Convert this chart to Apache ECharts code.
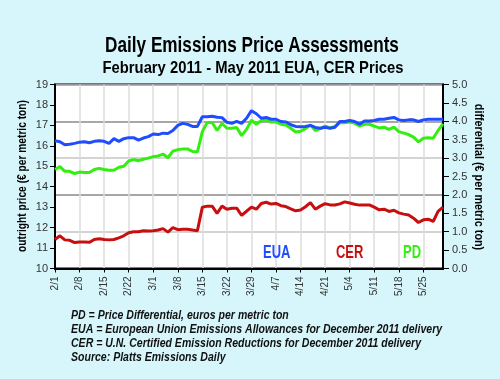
<!DOCTYPE html>
<html>
<head>
<meta charset="utf-8">
<script src="https://cdn.jsdelivr.net/npm/echarts@6/dist/echarts.min.js"></script>
<style>
html,body{margin:0;padding:0;background:#d6f6fb;}
#chart{width:500px;height:379px;}
</style>
</head>
<body>
<div id="chart"></div>
<script>
var categories = [
'2/1','2/2','2/3','2/4','2/7',
'2/8','2/9','2/10','2/11','2/14',
'2/15','2/16','2/17','2/18','2/21',
'2/22','2/23','2/24','2/25','2/28',
'3/1','3/2','3/3','3/4','3/7',
'3/8','3/9','3/10','3/11','3/14',
'3/15','3/16','3/17','3/18','3/21',
'3/22','3/23','3/24','3/25','3/28',
'3/29','3/30','3/31','4/1','4/4',
'4/7','4/8','4/11','4/12','4/13',
'4/14','4/15','4/18','4/19','4/20',
'4/21','4/26','4/27','4/28','5/3',
'5/4','5/5','5/6','5/9','5/10',
'5/11','5/12','5/13','5/16','5/17',
'5/18','5/19','5/20','5/23','5/24',
'5/25','5/26','5/27','5/30','5/31'];

var eua = [
16.25,16.2,16.05,16.08,16.12,16.18,16.2,16.15,16.22,16.25,
16.22,16.12,16.35,16.22,16.35,16.4,16.4,16.28,16.38,16.45,
16.58,16.55,16.62,16.6,16.75,17.0,17.1,17.05,16.95,16.95,
17.42,17.42,17.45,17.4,17.38,17.15,17.1,17.2,17.1,17.35,
17.72,17.57,17.35,17.39,17.3,17.3,17.19,17.17,17.03,16.95,
16.93,16.95,17.0,16.9,16.86,16.91,16.86,16.91,17.19,17.19,
17.24,17.19,17.06,17.21,17.22,17.24,17.3,17.3,17.35,17.39,
17.27,17.24,17.27,17.27,17.19,17.27,17.3,17.3,17.3,17.3];

var cer = [
11.42,11.6,11.4,11.38,11.27,11.3,11.3,11.28,11.42,11.45,
11.42,11.4,11.42,11.5,11.6,11.75,11.8,11.8,11.85,11.83,
11.85,11.88,11.95,11.78,12.0,11.9,11.92,11.92,11.88,11.85,
13.0,13.05,13.05,12.7,13.05,12.9,12.95,12.95,12.6,12.8,
13.0,12.9,13.18,13.24,13.15,13.18,13.07,13.03,12.92,12.82,
12.86,13.02,13.22,12.9,13.05,13.17,13.11,13.11,13.16,13.26,
13.2,13.14,13.1,13.11,13.11,13.0,12.87,12.9,12.79,12.85,
12.72,12.66,12.62,12.46,12.25,12.38,12.41,12.3,12.79,13.0];

var pd = [
2.69,2.77,2.64,2.64,2.58,2.62,2.61,2.61,2.69,2.72,
2.69,2.67,2.67,2.75,2.78,2.92,2.96,2.93,2.97,3.0,
3.04,3.06,3.11,3.01,3.19,3.23,3.25,3.25,3.18,3.17,
3.72,3.97,3.97,3.75,3.94,3.81,3.81,3.83,3.61,3.78,
4.03,3.92,4.02,4.04,3.98,3.98,3.92,3.9,3.81,3.71,
3.73,3.8,3.9,3.75,3.8,3.87,3.82,3.86,3.96,3.96,
3.98,3.95,3.87,3.92,3.92,3.87,3.82,3.84,3.78,3.84,
3.72,3.68,3.64,3.57,3.44,3.54,3.55,3.54,3.75,3.93];

var leftMin = 10, leftMax = 19, leftStep = 1;
var rightMin = 0, rightMax = 5, rightStep = 0.5, gridStep = 1;

var titleText = 'Daily Emissions Price Assessments';
var subtitleText = 'February 2011 - May 2011 EUA, CER Prices';
var leftAxisName = 'outright price (\u20ac per metric ton)';
var rightAxisName = 'differential (\u20ac per metric ton)';
var notes = [
'PD = Price Differential, euros per metric ton',
'EUA = European Union Emissions Allowances for December 2011 delivery',
'CER = U.N. Certified Emission Reductions for December 2011 delivery',
'Source: Platts Emissions Daily'];

var C_EUA = '#1f4cff', C_CER = '#c80f0f', C_PD = '#33ee11';
var FONT = '"Liberation Sans","Arial",sans-serif';

var chart = echarts.init(document.getElementById('chart'));
var graphics = [
  {type:'text', x:252, y:46, scaleX:0.78, style:{text:titleText, font:'bold 22px '+FONT, fill:'#000', textAlign:'center', textVerticalAlign:'middle'}},
  {type:'text', x:253, y:68, scaleX:0.87, style:{text:subtitleText, font:'bold 17px '+FONT, fill:'#000', textAlign:'center', textVerticalAlign:'middle'}},
  {type:'text', x:23, y:176, rotation:Math.PI/2, scaleX:0.85, style:{text:leftAxisName, font:'bold 12px '+FONT, fill:'#000', textAlign:'center', textVerticalAlign:'middle'}},
  {type:'text', x:478, y:177, rotation:-Math.PI/2, scaleX:0.9, style:{text:rightAxisName, font:'bold 12px '+FONT, fill:'#000', textAlign:'center', textVerticalAlign:'middle'}},
  {type:'text', x:263, y:253, scaleX:0.72, style:{text:'EUA', font:'bold 18px '+FONT, fill:C_EUA, textVerticalAlign:'middle'}},
  {type:'text', x:336, y:253, scaleX:0.72, style:{text:'CER', font:'bold 18px '+FONT, fill:C_CER, textVerticalAlign:'middle'}},
  {type:'text', x:403, y:253, scaleX:0.72, style:{text:'PD', font:'bold 18px '+FONT, fill:C_PD, textVerticalAlign:'middle'}}
];
notes.forEach(function(t, k){
  graphics.push({type:'text', x:71, y:315 + k*14, scaleX:0.81, style:{text:t, font:'italic bold 13px '+FONT, fill:'#111', textVerticalAlign:'middle'}});
});
graphics.forEach(function(g){ g.z = 100; });

chart.setOption({
  backgroundColor:'#d6f6fb',
  animation:false,
  grid:{left:55, right:57, top:84.5, bottom:110.5, show:true, backgroundColor:'#ffffff', borderColor:'#000', borderWidth:2, containLabel:false},
  xAxis:{type:'category', data:categories, boundaryGap:false,
    axisLine:{show:true, lineStyle:{color:'#000', width:2}},
    axisTick:{show:true, interval:4, length:4, lineStyle:{color:'#000'}},
    axisLabel:{interval:4, rotate:90, fontSize:10, color:'#333', fontFamily:'Liberation Sans', margin:8},
    splitLine:{show:true, interval:4, lineStyle:{color:'#dddddd', width:1.5}}},
  yAxis:[
    {type:'value', min:leftMin, max:leftMax, interval:leftStep, position:'left',
      axisLine:{show:true, lineStyle:{color:'#000', width:2}},
      axisTick:{show:true, length:5, lineStyle:{color:'#000'}},
      axisLabel:{fontSize:11, color:'#333', fontFamily:'Liberation Sans', margin:7},
      splitLine:{show:false}},
    {type:'value', min:rightMin, max:rightMax, interval:rightStep, position:'right',
      axisLine:{show:true, lineStyle:{color:'#000', width:2}},
      axisTick:{show:true, length:6, lineStyle:{color:'#000'}},
      axisLabel:{fontSize:11, color:'#333', fontFamily:'Liberation Sans', margin:9, formatter:function(v){return v.toFixed(1);}},
      splitLine:{show:false}},
    {type:'value', min:rightMin, max:rightMax, interval:gridStep, position:'right', show:true,
      axisLine:{show:false}, axisTick:{show:false}, axisLabel:{show:false},
      splitLine:{show:true, lineStyle:{color:['#8a8a8a','#c4c4c4'], width:1.5}}}
  ],
  series:[
    {name:'PD', type:'line', yAxisIndex:1, data:pd, symbol:'none', lineStyle:{color:C_PD, width:3}, z:3},
    {name:'EUA', type:'line', yAxisIndex:0, data:eua, symbol:'none', lineStyle:{color:C_EUA, width:3}, z:4},
    {name:'CER', type:'line', yAxisIndex:0, data:cer, symbol:'none', lineStyle:{color:C_CER, width:3}, z:4}
  ],
  graphic:graphics
});
</script>
</body>
</html>
